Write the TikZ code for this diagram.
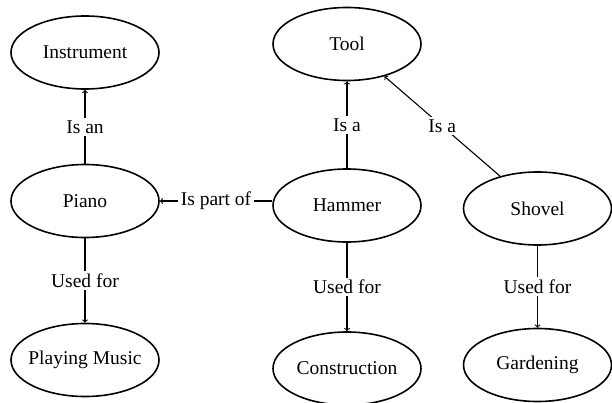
\documentclass[tikz,border=0pt]{standalone}
\usepackage{fontspec}
\setmainfont{Liberation Serif}
\usetikzlibrary{shapes.geometric}
\newcommand\ctxt[1]{\makebox[0pt]{#1}}
\begin{document}
\begin{tikzpicture}[x=1pt,y=-1pt,
  concept/.style={draw, ellipse, line width=1.6pt, minimum width=148pt, minimum height=73pt, inner sep=0pt, font=\fontsize{19.5}{22}\selectfont},
  rel/.style={->, line width=1.1pt},
  lab/.style={fill=white, inner sep=2.5pt, font=\fontsize{19.5}{22}\selectfont}]
\useasboundingbox (0,0) rectangle (612,403);
\node[concept] (instr) at (85,52.5) {\ctxt{Instrument}};
\node[concept] (piano) at (85,201) {\ctxt{Piano}};
\node[concept] (music) at (85,360) {\ctxt{Playing Music}};
\node[concept] (tool) at (347,44) {\ctxt{Tool}};
\node[concept] (hammer) at (347,205.5) {\ctxt{Hammer}};
\node[concept] (constr) at (347,368.5) {\ctxt{Construction}};
\node[concept] (shovel) at (537.5,208.5) {\ctxt{Shovel}};
\node[concept] (garden) at (537.5,365) {\ctxt{Gardening}};
\draw[rel] (piano) -- node[lab] {Is an} (instr);
\draw[rel] (hammer) -- node[lab] {Is a} (tool);
\draw[rel] (shovel) -- node[lab] {Is a} (tool);
\draw[rel] (hammer.west |- piano.east) -- node[lab] {Is part of} (piano.east);
\draw[rel] (piano) -- node[lab] {Used for} (music);
\draw[rel] (hammer) -- node[lab] {Used for} (constr);
\draw[rel] (shovel) -- node[lab] {Used for} (garden);
\end{tikzpicture}
\end{document}
